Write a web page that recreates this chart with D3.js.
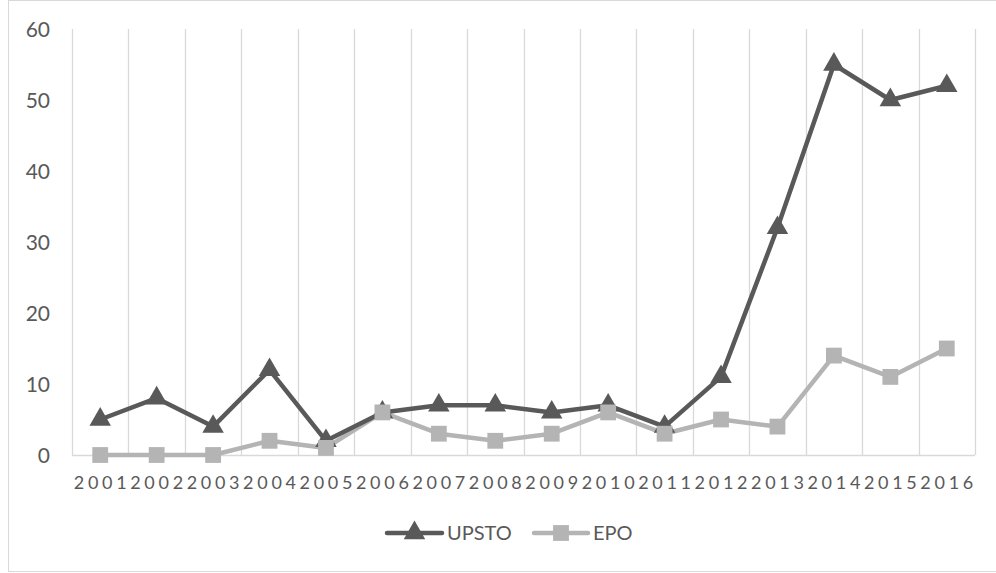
<!DOCTYPE html>
<html><head><meta charset="utf-8">
<script src="https://cdn.jsdelivr.net/npm/d3@7"></script>
<style>body{margin:0;background:#fff;}svg{display:block;}</style>
</head><body><svg id="c" width="996" height="573"></svg>
<script>
const years = ["2001","2002","2003","2004","2005","2006","2007","2008","2009","2010","2011","2012","2013","2014","2015","2016"];
const upsto = [5,8,4,12,2,6,7,7,6,7,4,11,32,55,50,52];
const epo = [0,0,0,2,1,6,3,2,3,6,3,5,4,14,11,15];
const yTicks = [0,10,20,30,40,50,60];
const seriesNames = ["UPSTO","EPO"];

(function(){
const FONT = "Lato, 'Open Sans', sans-serif";
const svg = d3.select("#c").attr("font-family",FONT);
const W = 996, H = 573;
const pL = 72, pR = 975, pT = 29, pB = 455;
const dark = "#595959", light = "#b4b4b4", grid = "#d9d9d9", txt = "#595959";

// outer border
svg.append("rect").attr("x",8.5).attr("y",0.5).attr("width",W+10).attr("height",571)
  .attr("fill","none").attr("stroke","#d9d9d9").attr("stroke-width",1);

const x = d3.scaleBand().domain(years).range([pL,pR]).padding(0);
const y = d3.scaleLinear().domain([0,60]).range([pB,pT]);

// vertical gridlines at category boundaries
const bounds = years.map(d=>x(d)).concat([pR]);
svg.append("g").selectAll("line").data(bounds).join("line")
  .attr("x1",d=>Math.round(d)+0.5).attr("x2",d=>Math.round(d)+0.5)
  .attr("y1",pT).attr("y2",pB).attr("stroke",grid).attr("stroke-width",1.3);

// baseline
svg.append("line").attr("x1",pL).attr("x2",pR).attr("y1",pB+0.5).attr("y2",pB+0.5)
  .attr("stroke",grid).attr("stroke-width",1.3);

// y axis labels
const yAxis = d3.axisLeft(y).tickValues(yTicks).tickSize(0).tickPadding(0);
const yg = svg.append("g").attr("transform",`translate(${50},0)`).call(yAxis)
  .attr("font-family",FONT).attr("font-size",21);
yg.select(".domain").remove();
yg.selectAll("text").attr("fill",txt).attr("dy","0.35em");

// x axis labels
const xAxis = d3.axisBottom(x).tickSize(0).tickPadding(0);
const xg = svg.append("g").attr("transform",`translate(0,${476})`).call(xAxis)
  .attr("font-family",FONT).attr("font-size",18);
xg.select(".domain").remove();
xg.selectAll("text").attr("fill",txt).style("letter-spacing","3.7px")
  .attr("dx","1.85px").attr("dy","0.35em").attr("y",7);

const line = d3.line().x((d,i)=>x(years[i])+x.bandwidth()/2).y(d=>y(d));
const tri = d3.symbol().type(d3.symbolTriangle).size(200);
const sq = d3.symbol().type(d3.symbolSquare).size(250);

function drawLine(vals, color){
  svg.append("path").datum(vals).attr("d",line).attr("fill","none")
    .attr("stroke",color).attr("stroke-width",4.5).attr("stroke-linejoin","round");
}
function drawMarkers(vals, color, sym){
  svg.append("g").selectAll("path").data(vals).join("path")
    .attr("transform",(d,i)=>`translate(${x(years[i])+x.bandwidth()/2},${y(d)})`)
    .attr("d",sym).attr("fill",color);
}
drawLine(epo, light);
drawLine(upsto, dark);
drawMarkers(upsto, dark, tri);
drawMarkers(epo, light, sq);

// legend
const leg = [{name:seriesNames[0], color:dark, sym:tri, x1:387, x2:442, tx:447},
             {name:seriesNames[1], color:light, sym:sq, x1:534, x2:588, tx:593}];
const ly = 533;
leg.forEach(l=>{
  svg.append("line").attr("x1",l.x1).attr("x2",l.x2).attr("y1",ly).attr("y2",ly)
    .attr("stroke",l.color).attr("stroke-width",4.5).attr("stroke-linecap","round");
  svg.append("path").attr("transform",`translate(${(l.x1+l.x2)/2},${ly})`).attr("d",l.sym).attr("fill",l.color);
  svg.append("text").attr("x",l.tx).attr("y",ly).attr("dy","0.35em").attr("fill",txt)
    .attr("font-size",20).text(l.name);
});
})();
</script></body></html>
